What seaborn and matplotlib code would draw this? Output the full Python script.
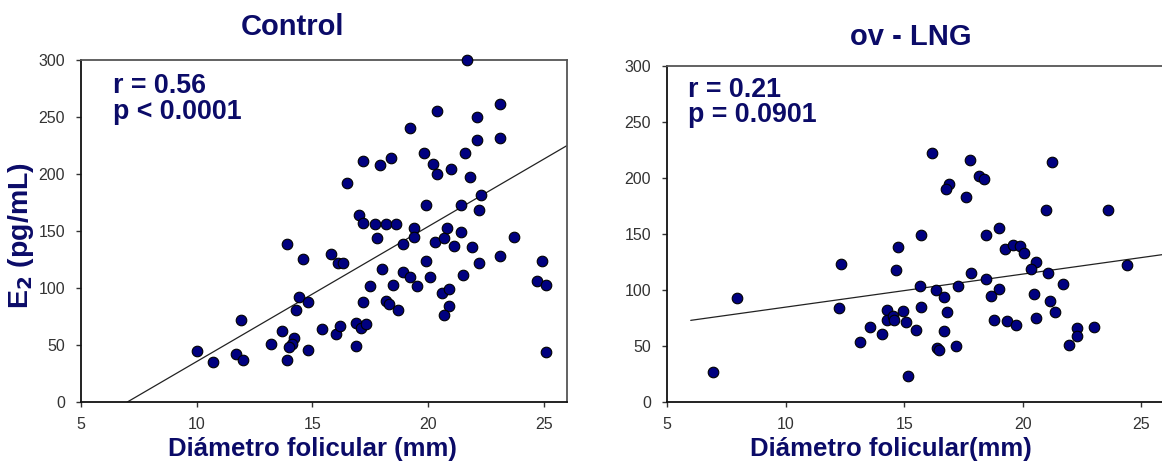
import numpy as np
import pandas as pd
import matplotlib
matplotlib.use("Agg")
import matplotlib.pyplot as plt
import seaborn as sns

# ---------------- data ----------------
ctrl_x = [10.0, 10.7, 11.7, 12.0, 11.9, 13.2, 13.7, 13.9, 13.9, 14.6, 14.4, 14.3, 14.8, 14.2, 14.1,
          14.0, 14.8, 15.4, 15.8, 16.1, 16.3, 16.0, 16.2, 16.9, 17.1, 17.3, 16.9, 17.2, 17.0, 17.2,
          17.7, 17.8, 18.2, 18.6, 18.0, 17.5, 18.2, 18.3, 18.5, 18.7, 18.9, 18.9, 19.2, 19.5, 19.4,
          19.4, 19.9, 19.9, 20.1, 20.3, 20.7, 20.8, 21.1, 21.4, 21.4, 21.9, 21.5, 22.2, 22.2, 23.1,
          23.7, 20.6, 20.9, 20.9, 20.7, 24.9, 24.7, 25.1, 25.1, 21.7, 23.1, 20.4, 22.1, 19.2, 22.1,
          23.1, 17.2, 17.9, 18.4, 16.5, 19.8, 20.2, 20.4, 21.0, 21.6, 21.8, 22.3]
ctrl_y = [45, 35, 42, 37, 72, 51, 62, 139, 37, 125, 92, 81, 88, 56, 51,
          48, 46, 64, 130, 122, 122, 60, 67, 69, 65, 68, 49, 88, 164, 157,
          156, 144, 156, 156, 117, 102, 89, 86, 103, 81, 139, 114, 110, 102, 153,
          145, 173, 124, 110, 140, 144, 153, 137, 149, 173, 136, 111, 168, 122, 128,
          145, 96, 99, 84, 76, 124, 106, 103, 44, 300, 261, 255, 250, 240, 230,
          232, 211, 208, 214, 192, 218, 209, 200, 204, 218, 197, 182]

lng_x = [6.93, 7.97, 12.33, 12.27, 13.14, 13.55, 14.06, 14.27, 14.27, 14.55, 14.59, 14.97, 15.06,
         14.66, 14.76, 15.18, 16.17, 17.76, 21.24, 16.89, 16.77, 18.15, 18.38, 17.59, 20.99, 23.58,
         19.0, 15.73, 18.45, 19.24, 19.59, 19.87, 20.06, 20.54, 20.36, 21.06, 21.68, 24.38, 17.84,
         18.45, 17.25, 15.66, 16.36, 16.66, 18.98, 18.67, 20.47, 21.16, 21.36, 20.56, 15.73, 16.79,
         15.48, 16.67, 16.38, 16.46, 17.17, 18.78, 19.35, 19.70, 22.3, 22.3, 21.96, 23.0]
lng_y = [27, 93, 123, 84, 54, 67, 61, 82, 73, 77, 73, 81, 71,
         118, 138, 23, 222, 216, 214, 195, 190, 202, 199, 183, 171, 171,
         155, 149, 149, 137, 140, 139, 133, 125, 119, 115, 105, 122, 115,
         110, 104, 104, 100, 94, 101, 95, 96, 90, 80, 75, 85, 80,
         64, 63, 48, 46, 50, 73, 72, 69, 66, 59, 51, 67]

# trend lines (slope, intercept, x-range)
ctrl_fit = (11.84, -82.9, 7.0, 26.0)
lng_fit = (2.95, 55.2, 6.0, 26.0)

titles = ["Control", "ov - LNG"]
stats_text = ["r = 0.56\np < 0.0001", "r = 0.21\np = 0.0901"]
xlabels = ["Diámetro folicular (mm)", "Diámetro folicular(mm)"]
ylabel = "E$_\\mathbf{2}$ (pg/mL)"
xticks = [5, 10, 15, 20, 25]
yticks = [0, 50, 100, 150, 200, 250, 300]

# ---------------- style ----------------
sns.set_style("ticks")
plt.rcParams["font.family"] = ["Liberation Sans", "DejaVu Sans"]
NAVY = "#0b0b68"
DOT = "#000080"

fig = plt.figure(figsize=(11.62, 4.61), dpi=100)
W, H = 1162, 461
ax1 = fig.add_axes([81 / W, (H - 402) / H, 486 / W, 342 / H])
ax2 = fig.add_axes([667 / W, (H - 402) / H, 498 / W, 336 / H])

datasets = [(ax1, ctrl_x, ctrl_y, ctrl_fit), (ax2, lng_x, lng_y, lng_fit)]
for i, (ax, xs, ys, fit) in enumerate(datasets):
    df = pd.DataFrame({"x": xs, "y": ys})
    slope, icpt, x0, x1 = fit
    lx = np.array([x0, x1])
    sns.lineplot(x=lx, y=slope * lx + icpt, ax=ax, color="#222222", lw=0.9, zorder=2)
    sns.scatterplot(data=df, x="x", y="y", ax=ax, s=58, color=DOT,
                    edgecolor="black", linewidth=0.8, zorder=3, clip_on=False)
    ax.set_xlim(5, 26)
    ax.set_ylim(0, 300)
    ax.set_xticks(xticks)
    ax.set_yticks(yticks)
    ax.set_xlabel("")
    ax.set_ylabel("")
    for lab in ax.get_xticklabels() + ax.get_yticklabels():
        lab.set_fontsize(11.5)
        lab.set_color("#333333")
    ax.tick_params(length=3.6, width=1, color="#333333")
    ax.tick_params(axis="y", pad=8)
    ax.tick_params(axis="x", pad=7)
    for s in ["left", "bottom"]:
        ax.spines[s].set_color("#111111")
        ax.spines[s].set_linewidth(1.3)
    for s in ["top", "right"]:
        ax.spines[s].set_visible(True)
        ax.spines[s].set_color("#555555")
        ax.spines[s].set_linewidth(1.3)
    ax.text(0.066 if i == 0 else 0.043, 0.962 if i == 0 else 0.968, stats_text[i],
            transform=ax.transAxes, ha="left", va="top", fontsize=19.3,
            fontweight="bold", color=NAVY, linespacing=0.98)

# titles
fig.text(292 / W, 1 - 27 / H, titles[0], ha="center", va="center",
         fontsize=21, fontweight="bold", color=NAVY)
fig.text(911 / W, 1 - 37 / H, titles[1], ha="center", va="center",
         fontsize=21, fontweight="bold", color=NAVY)

# x labels
fig.text(312 / W, 1 - 437 / H, xlabels[0], ha="center", va="top",
         fontsize=18.5, fontweight="bold", color=NAVY)
fig.text(891 / W, 1 - 437 / H, xlabels[1], ha="center", va="top",
         fontsize=18.5, fontweight="bold", color=NAVY)
# y label
fig.text(21 / W, 1 - 236 / H, ylabel, ha="center", va="center", rotation=90,
         fontsize=20.5, fontweight="bold", color=NAVY)

fig.savefig("out.png", dpi=100)
